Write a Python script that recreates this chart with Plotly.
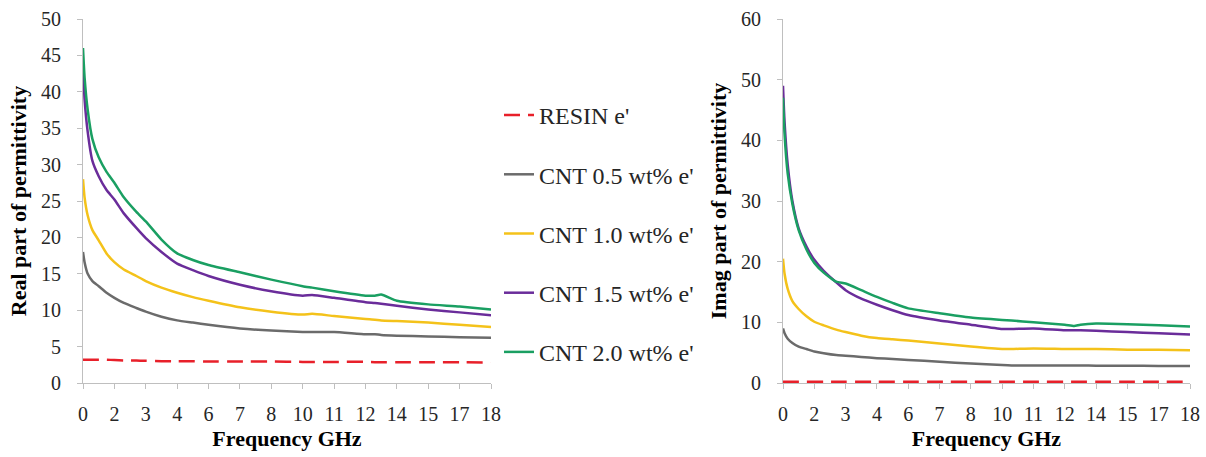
import plotly.graph_objects as go

# Category tick labels (frequency, GHz) - equally spaced categories
tick_labels = ["0", "2", "3", "4", "6", "7", "8", "10", "11", "12", "14", "15", "17", "18"]

# positions along the category axis (index of tick labels, fractional between)
pos = [0, 0.05, 0.15, 0.3, 0.5, 0.75, 1, 1.3, 1.7, 2, 2.5, 3, 3.5, 4, 5, 6, 7, 7.3, 8, 9, 9.3, 9.5, 10, 11, 12, 13]

series_names = ["RESIN e'", "CNT 0.5 wt% e'", "CNT 1.0 wt% e'", "CNT 1.5 wt% e'", "CNT 2.0 wt% e'"]

# Real part of permittivity
real_resin = [3.2, 3.2, 3.2, 3.2, 3.2, 3.2, 3.15, 3.1, 3.1, 3.05, 3.0, 3.0, 3.0, 2.95, 2.95, 2.95, 2.9, 2.9, 2.9, 2.9, 2.85, 2.85, 2.85, 2.85, 2.85, 2.8]
real_cnt05 = [18, 16.6, 15, 14, 13.3, 12.4, 11.7, 11, 10.3, 9.8, 9.1, 8.6, 8.3, 8.0, 7.5, 7.2, 7.0, 7.0, 7.0, 6.7, 6.7, 6.6, 6.5, 6.4, 6.3, 6.2]
real_cnt10 = [28, 25.5, 23, 21, 19.6, 17.8, 16.6, 15.6, 14.7, 14.0, 13.1, 12.4, 11.8, 11.3, 10.4, 9.8, 9.4, 9.5, 9.2, 8.8, 8.7, 8.6, 8.5, 8.3, 8.0, 7.7]
real_cnt15 = [43.5, 39, 34.5, 30.5, 28.4, 26.5, 25.2, 23.3, 21.3, 19.9, 18, 16.4, 15.5, 14.7, 13.5, 12.6, 12.0, 12.1, 11.7, 11.1, 11.0, 10.9, 10.6, 10.1, 9.7, 9.3]
real_cnt20 = [46, 42, 37.5, 33.5, 31, 29, 27.5, 25.5, 23.5, 22.2, 19.7, 17.8, 16.9, 16.2, 15.2, 14.2, 13.3, 13.1, 12.6, 12.0, 12.0, 12.15, 11.3, 10.8, 10.5, 10.1]

# Imaginary part of permittivity
imag_resin = [0.2] * 26
imag_cnt05 = [9.0, 8.2, 7.3, 6.6, 6.0, 5.6, 5.2, 4.9, 4.6, 4.5, 4.3, 4.1, 3.95, 3.8, 3.5, 3.2, 2.95, 2.9, 2.9, 2.9, 2.9, 2.9, 2.85, 2.85, 2.8, 2.8]
imag_cnt10 = [20.5, 18, 15.5, 13.5, 12.2, 11, 10.1, 9.5, 8.8, 8.4, 7.8, 7.4, 7.2, 7.0, 6.5, 6.0, 5.6, 5.6, 5.7, 5.6, 5.6, 5.6, 5.6, 5.5, 5.5, 5.4]
imag_cnt15 = [49, 43, 36, 30, 25.5, 22.5, 20.3, 18.5, 16.6, 15.3, 13.9, 12.9, 12.0, 11.2, 10.3, 9.6, 8.9, 8.9, 9.0, 8.7, 8.7, 8.7, 8.6, 8.4, 8.2, 8.0]
imag_cnt20 = [47, 41, 34.5, 29.5, 25.2, 22, 19.8, 18.2, 16.7, 16.4, 15.3, 14.2, 13.2, 12.3, 11.5, 10.8, 10.4, 10.3, 10.0, 9.6, 9.4, 9.6, 9.8, 9.7, 9.5, 9.3]

colors = ["#e8202a", "#6b6b6b", "#f4c21a", "#6a2c9a", "#1a9f62"]
dashes = ["16px,8px", "solid", "solid", "solid", "solid"]

real_sets = [real_resin, real_cnt05, real_cnt10, real_cnt15, real_cnt20]
imag_sets = [imag_resin, imag_cnt05, imag_cnt10, imag_cnt15, imag_cnt20]

FONT = "Liberation Serif, Times New Roman, serif"
W, H = 1206, 457

fig = go.Figure()
for i, name in enumerate(series_names):
    fig.add_trace(go.Scatter(x=pos, y=real_sets[i], mode="lines", name=name,
                             line=dict(color=colors[i], width=2.5, dash=dashes[i], shape="spline", smoothing=0.5),
                             legendgroup=f"g{i}", showlegend=True, xaxis="x", yaxis="y"))
for i, name in enumerate(series_names):
    fig.add_trace(go.Scatter(x=pos, y=imag_sets[i], mode="lines", name=name,
                             line=dict(color=colors[i], width=2.5, dash=dashes[i], shape="spline", smoothing=0.5),
                             legendgroup=f"g{i}", showlegend=False, xaxis="x2", yaxis="y2"))

axis_common = dict(showline=True, linecolor="#bfbfbf", linewidth=1, ticks="outside",
                   tickcolor="#bfbfbf", ticklen=5, showgrid=False, zeroline=False,
                   tickfont=dict(family=FONT, size=20, color="#262626"))

y0 = 1 - 383 / H
y1 = 1 - 19 / H

xcommon = dict(axis_common, tickmode="array", tickvals=list(range(len(tick_labels))),
               ticktext=tick_labels, range=[0, 13], ticklabelstandoff=8,
               title=dict(text="<b>Frequency GHz</b>", font=dict(family=FONT, size=22, color="#000000"), standoff=6))

fig.update_layout(
    width=W, height=H,
    margin=dict(l=0, r=0, t=0, b=0, autoexpand=False),
    paper_bgcolor="white", plot_bgcolor="white",
    xaxis=dict(xcommon, domain=[83 / W, 491 / W], anchor="y"),
    xaxis2=dict(xcommon, domain=[783 / W, 1190 / W], anchor="y2"),
    yaxis=dict(axis_common, domain=[y0, y1], range=[0, 50], dtick=5, anchor="x", ticklabelstandoff=12,
               title=dict(text="<b>Real part of permittivity</b>", font=dict(family=FONT, size=22, color="#000000"), standoff=8)),
    yaxis2=dict(axis_common, domain=[y0, y1], range=[0, 60], dtick=10, anchor="x2", ticklabelstandoff=12,
                title=dict(text="<b>Imag part of permittivity</b>", font=dict(family=FONT, size=22, color="#000000"), standoff=8)),
    legend=dict(x=499 / W, y=1 - 93 / H, xanchor="left", yanchor="top",
                font=dict(family=FONT, size=24, color="#262626"),
                tracegroupgap=25, traceorder="grouped", bgcolor="rgba(0,0,0,0)", itemwidth=30),
    showlegend=True,
)

fig.write_html("out.html", config={"displayModeBar": False},
               post_script="document.body.style.margin='0';document.body.style.overflow='hidden';")
